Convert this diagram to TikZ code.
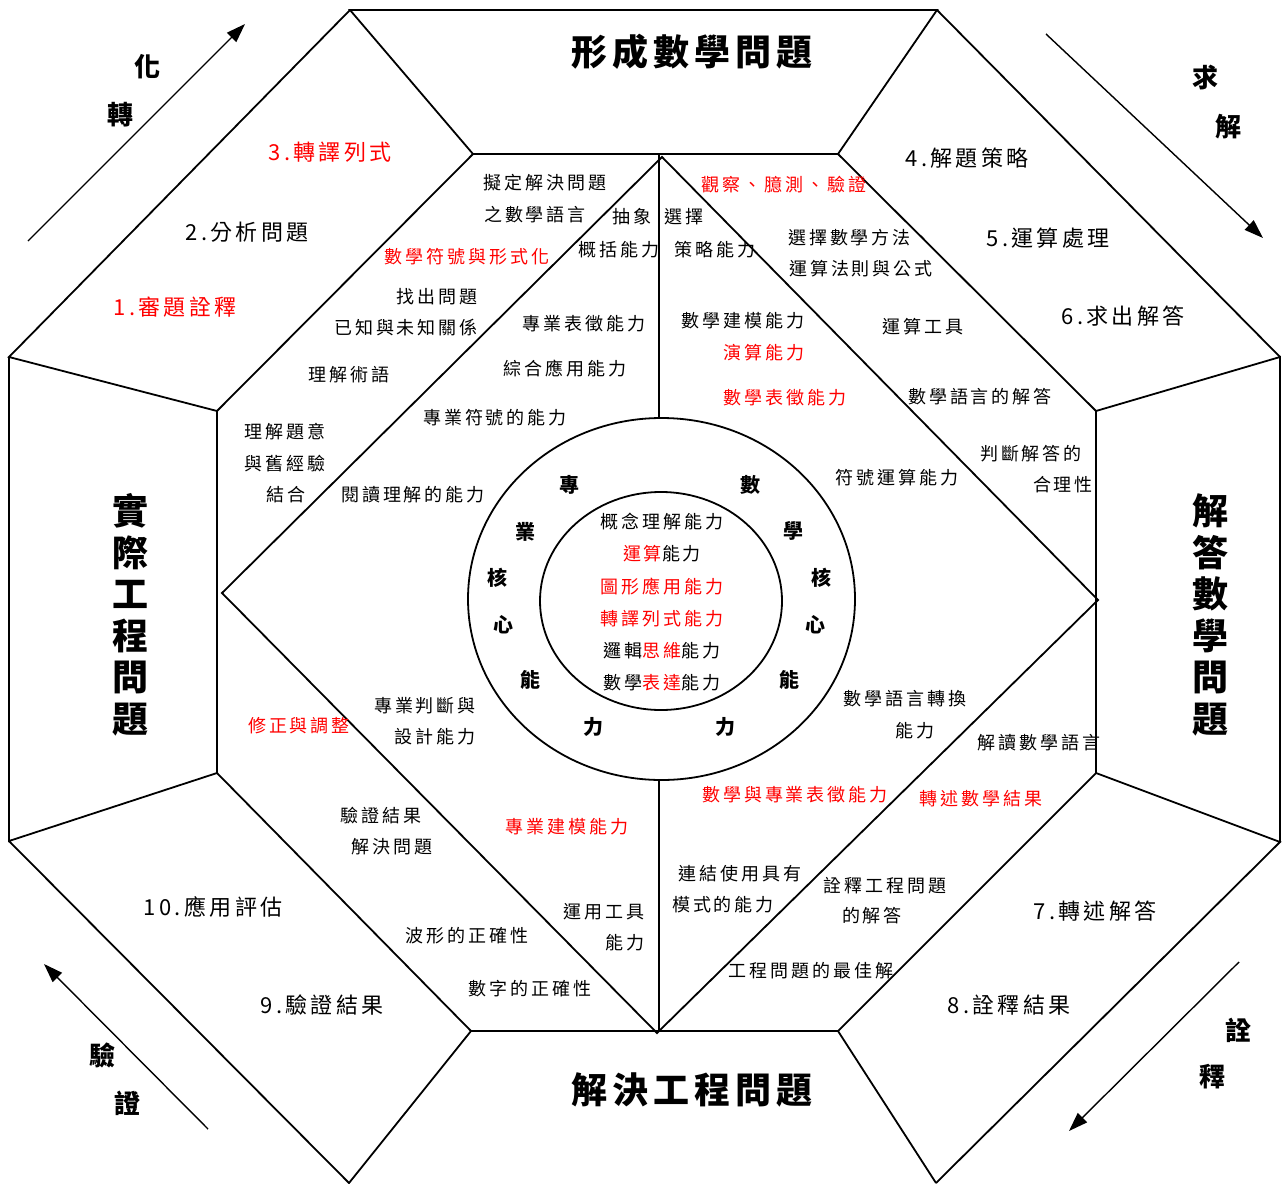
\documentclass[tikz,border=0pt]{standalone}
\usepackage{fontspec}
\usetikzlibrary{arrows.meta,shapes.geometric}
\newfontfamily\cjk[LetterSpace=16]{Noto Sans CJK TC}
\newfontfamily\cjkt[LetterSpace=14]{Noto Sans CJK TC}
\tikzset{
  ln/.style={line width=1.8pt, line join=miter},
  sm/.style={font=\cjk\fontsize{18}{21}\selectfont, inner sep=0pt},
  smr/.style={sm, text=red},
  stp/.style={font=\cjk\fontsize{22}{26}\selectfont, inner sep=0pt},
  stpr/.style={stp, text=red},
  ttl/.style={font=\cjkt\bfseries\fontsize{36}{41.5}\selectfont, inner sep=0pt, align=center},
  ring/.style={font=\cjk\bfseries\fontsize{20}{24}\selectfont, inner sep=0pt},
  arr/.style={line width=1.4pt, -{Triangle[length=19pt,width=13pt]}},
  alab/.style={font=\cjk\bfseries\fontsize{26}{30}\selectfont, inner sep=0pt},
}
\begin{document}
\begin{tikzpicture}[x=1pt,y=-1pt]
\useasboundingbox (0,0) rectangle (1282,1183);
% vertices
\coordinate (T1) at (350,10);   \coordinate (T2) at (937,10);
\coordinate (T3) at (838,154);  \coordinate (T4) at (473,154);
\coordinate (L1) at (9,357);    \coordinate (L2) at (217,411);
\coordinate (L3) at (217,773);  \coordinate (L4) at (9,841);
\coordinate (R1) at (1280,357); \coordinate (R2) at (1096,411);
\coordinate (R3) at (1096,773); \coordinate (R4) at (1280,842);
\coordinate (B1) at (471,1031); \coordinate (B2) at (838,1031);
\coordinate (B3) at (936,1183); \coordinate (B4) at (349,1183);
\coordinate (DT) at (662,157);  \coordinate (DR) at (1098,600);
\coordinate (DB) at (657,1033); \coordinate (DL) at (222,593);
\coordinate (VT) at (659,154);  \coordinate (VB) at (659,1031);
% frame
\draw[ln] (T1) -- (T2) -- (T3) -- (T4) -- cycle;
\draw[ln] (T1) -- (L1) -- (L2) -- (T4);
\draw[ln] (L1) -- (L4) -- (L3) -- (L2);
\draw[ln] (L4) -- (B4) -- (B1) -- (L3);
\draw[ln] (B1) -- (B2) -- (B3);
\draw[ln] (B2) -- (R3) -- (R4) -- (B3);
\draw[ln] (R3) -- (R2) -- (R1) -- (R4);
\draw[ln] (R2) -- (T3);
\draw[ln] (R1) -- (T2);
% diamond
\draw[ln] (DT) -- (DR) -- (DB) -- (DL) -- cycle;
% circles
\node[ln, draw, ellipse, minimum width=387pt, minimum height=362pt, inner sep=0pt] (outer) at (661.5,599) {};
\node[ln, draw, ellipse, minimum width=242pt, minimum height=218pt, inner sep=0pt] (inner) at (661,601) {};
\draw[ln] (VT) -- (VT |- outer.north);
\draw[ln] (VB |- outer.south) -- (VB);
% arrows
\coordinate (a1s) at (28,241);   \coordinate (a1e) at (245,24);
\coordinate (a2s) at (1046,34);  \coordinate (a2e) at (1263,238);
\coordinate (a3s) at (208,1129); \coordinate (a3e) at (44,964);
\coordinate (a4s) at (1239,962); \coordinate (a4e) at (1069,1131);
\draw[arr] (a1s) -- (a1e);
\draw[arr] (a2s) -- (a2e);
\draw[arr] (a3s) -- (a3e);
\draw[arr] (a4s) -- (a4e);
\node[alab] (ah1) at (147,67) {化};
\node[alab] (ah2) at (120,115) {轉};
\node[alab] (ah3) at (1205,78) {求};
\node[alab] (ah4) at (1228,127) {解};
\node[alab] (ah5) at (102,1055) {驗};
\node[alab] (ah6) at (127,1103) {證};
\node[alab] (ah7) at (1238,1030) {詮};
\node[alab] (ah8) at (1212,1077) {釋};
% titles
\node[ttl] (tt1) at (692,52) {形成數學問題};
\node[ttl] (tt2) at (692,1090) {解決工程問題};
\node[ttl] (tt3) at (130,615) {實\\際\\工\\程\\問\\題};
\node[ttl] (tt4) at (1210,615) {解\\答\\數\\學\\問\\題};
% steps
\node[stpr] (s3) at (330,152) {3.\kern3pt 轉譯列式};
\node[stp]  (s2) at (247,232) {2.\kern3pt 分析問題};
\node[stpr] (s1) at (175,307) {1.\kern3pt 審題詮釋};
\node[stp]  (s4) at (967,158) {4.\kern3pt 解題策略};
\node[stp]  (s5) at (1048,238) {5.\kern3pt 運算處理};
\node[stp]  (s6) at (1123,316) {6.\kern3pt 求出解答};
\node[stp]  (s7) at (1095,911) {7.\kern3pt 轉述解答};
\node[stp]  (s8) at (1009,1005) {8.\kern3pt 詮釋結果};
\node[stp]  (s10) at (213,907) {10.\kern3pt 應用評估};
\node[stp]  (s9) at (322,1005) {9.\kern3pt 驗證結果};
% upper-left band
\node[sm]  (u1) at (545,183) {擬定解決問題};
\node[sm]  (u2) at (535,215) {之數學語言};
\node[smr] (u3) at (467,257) {數學符號與形式化};
\node[sm]  (u4) at (437,297) {找出問題};
\node[sm]  (u5) at (406,328) {已知與未知關係};
\node[sm]  (u6) at (349,375) {理解術語};
\node[sm]  (u7) at (285,432) {理解題意};
\node[sm]  (u8) at (285,464) {與舊經驗};
\node[sm]  (u9) at (286,495) {結合};
% diamond upper-left
\node[sm]  (q1) at (632,217) {抽象};
\node[sm]  (q2) at (619,250) {概括能力};
\node[sm]  (q3) at (584,324) {專業表徵能力};
\node[sm]  (q4) at (565,369) {綜合應用能力};
\node[sm]  (q5) at (495,418) {專業符號的能力};
\node[sm]  (q6) at (413,495) {閱讀理解的能力};
% diamond upper-right
\node[sm]  (p1) at (684,217) {選擇};
\node[sm]  (p2) at (715,250) {策略能力};
\node[sm]  (p3) at (743,321) {數學建模能力};
\node[smr] (p4) at (764,353) {演算能力};
\node[smr] (p5) at (785,398) {數學表徵能力};
\node[sm]  (p6) at (897,478) {符號運算能力};
% upper-right band
\node[smr] (r1) at (784,185) {觀察、臆測、驗證};
\node[sm]  (r2) at (860,238) {選擇數學方法、};
\node[sm]  (r3) at (861,269) {運算法則與公式};
\node[sm]  (r4) at (923,327) {運算工具};
\node[sm]  (r5) at (980,397) {數學語言的解答};
\node[sm]  (r6) at (1031,454) {判斷解答的};
\node[sm]  (r7) at (1063,485) {合理性};
% lower-left band
\node[smr] (w1) at (299,726) {修正與調整};
\node[sm]  (w2) at (381,816) {驗證結果};
\node[sm]  (w3) at (392,847) {解決問題};
\node[sm]  (w4) at (467,936) {波形的正確性};
\node[sm]  (w5) at (530,989) {數字的正確性};
% diamond lower-left
\node[sm]  (k1) at (425,706) {專業判斷與};
\node[sm]  (k2) at (435,737) {設計能力};
\node[smr] (k3) at (567,827) {專業建模能力};
\node[sm]  (k4) at (604,912) {運用工具};
\node[sm]  (k5) at (625,943) {能力};
% diamond lower-right
\node[sm]  (m1) at (905,699) {數學語言轉換};
\node[sm]  (m2) at (915,731) {能力};
\node[smr] (m3) at (795,795) {數學與專業表徵能力};
\node[sm]  (m4) at (740,874) {連結使用具有};
\node[sm]  (m5) at (723,905) {模式的能力};
% lower-right band
\node[sm]  (v1) at (1039,743) {解讀數學語言};
\node[smr] (v2) at (981,799) {轉述數學結果};
\node[sm]  (v3) at (885,886) {詮釋工程問題};
\node[sm]  (v4) at (872,916) {的解答};
\node[sm]  (v5) at (811,971) {工程問題的最佳解};
% inner circle
\node[sm]  (c1) at (662,522) {概念理解能力};
\node[sm]  (c2) at (662,554) {{\color{red}運算}能力};
\node[smr] (c3) at (662,587) {圖形應用能力};
\node[smr] (c4) at (662,619) {轉譯列式能力};
\node[sm]  (c5) at (662,651) {邏輯{\color{red}思維}能力};
\node[sm]  (c6) at (662,683) {數學{\color{red}表達}能力};
% ring labels
\node[ring] (g1) at (569,485) {專};
\node[ring] (g2) at (525,532) {業};
\node[ring] (g3) at (497,578) {核};
\node[ring] (g4) at (503,625) {心};
\node[ring] (g5) at (530,680) {能};
\node[ring] (g6) at (593,727) {力};
\node[ring] (h1) at (750,485) {數};
\node[ring] (h2) at (793,531) {學};
\node[ring] (h3) at (821,578) {核};
\node[ring] (h4) at (815,625) {心};
\node[ring] (h5) at (789,680) {能};
\node[ring] (h6) at (725,727) {力};
\end{tikzpicture}
\end{document}
